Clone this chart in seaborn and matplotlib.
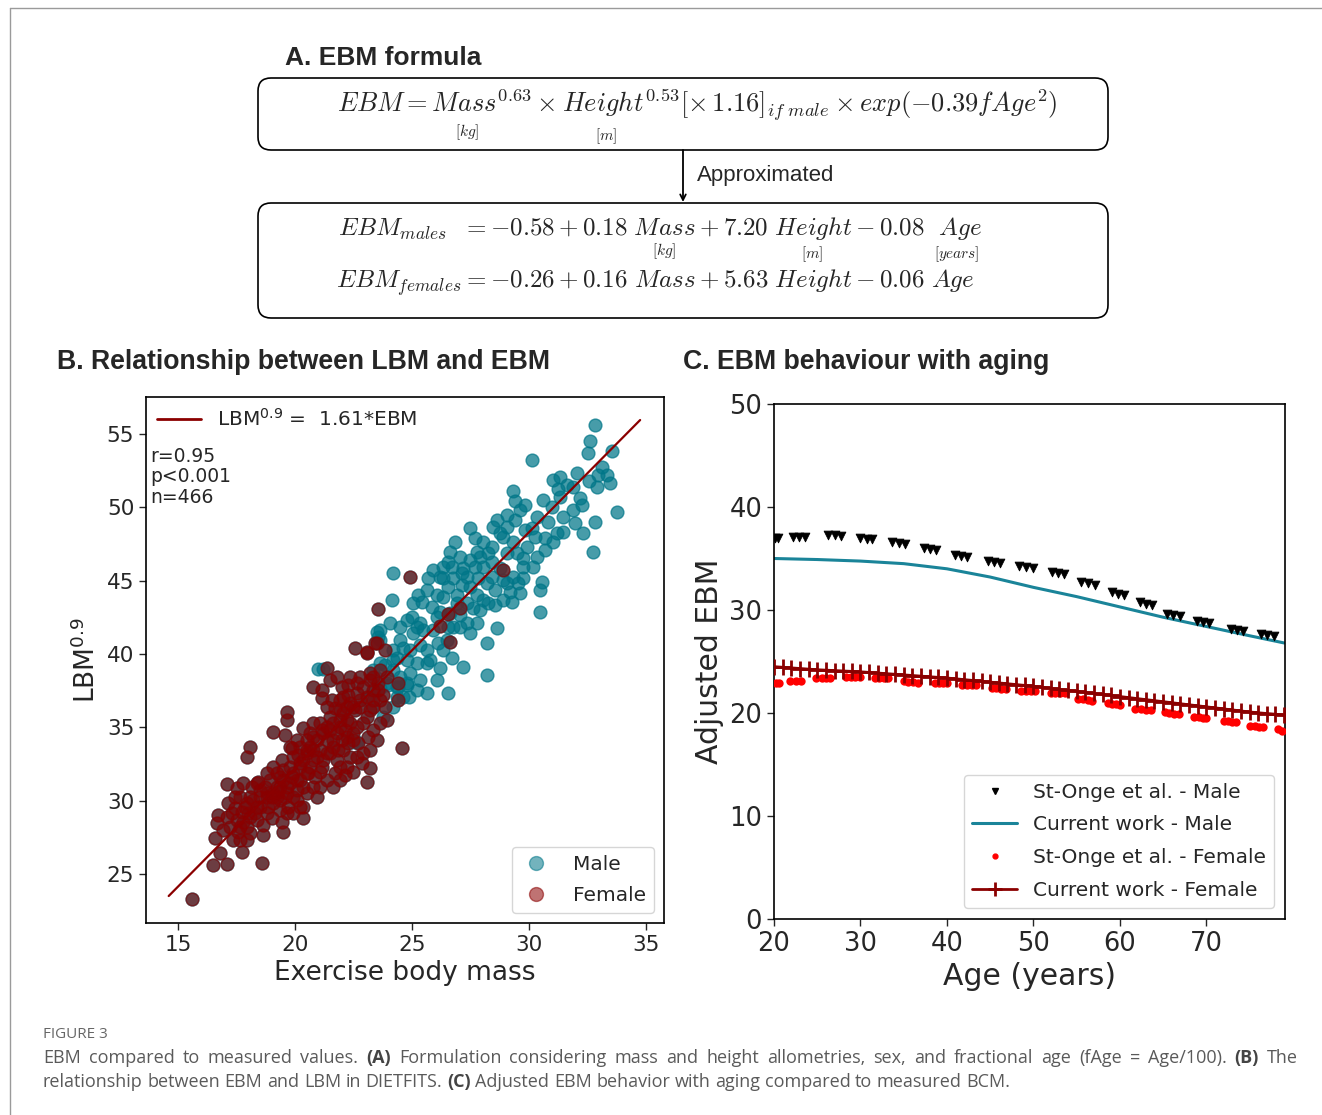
import matplotlib
matplotlib.use("Agg")
import matplotlib.pyplot as plt
import seaborn as sns
import pandas as pd
from matplotlib.patches import FancyBboxPatch
from matplotlib.lines import Line2D

# ---------------- Panel B data ----------------
male_ebm = [32.82, 32.61, 32.54, 33.53, 30.12, 33.11, 32.97, 33.32, 33.46, 32.58, 32.89, 31.04, 31.33, 31.26, 31.61,
            29.33, 29.40, 29.83, 30.61, 30.97, 32.18, 32.25, 33.75, 32.82, 31.97, 32.30, 31.47, 31.18, 30.83, 30.12,
            29.83, 30.26, 28.62, 29.05, 29.40, 28.48, 28.76, 27.48, 27.69, 28.05, 28.41, 28.26, 27.77, 27.48, 26.84,
            26.63, 26.55, 27.05, 27.20, 27.69, 28.05, 28.41, 28.76, 29.05, 29.48, 29.76, 29.90, 30.69, 30.69, 31.04,
            32.75, 29.76, 29.76, 28.91, 29.05, 29.55, 30.54, 30.47, 30.47, 29.62, 29.26, 28.91, 28.55, 28.26, 28.05,
            27.91, 27.62, 27.77, 27.48, 27.12, 27.12, 26.77, 26.34, 26.20, 25.70, 26.06, 26.34, 26.55, 26.91, 26.91,
            25.27, 25.42, 25.06, 24.20, 24.13, 26.63, 27.05, 27.34, 26.77, 26.55, 26.20, 26.06, 24.77, 24.99, 25.20,
            25.49, 25.06, 24.49, 24.63, 24.92, 25.63, 25.34, 26.13, 27.05, 27.48, 28.62, 28.19, 25.77, 26.20, 26.70,
            27.20, 25.63, 24.77, 24.35, 24.92, 23.63, 23.63, 24.20, 24.49, 24.77, 24.42, 25.63, 26.55, 28.19, 24.85,
            24.35, 21.00, 21.18, 22.63, 23.78, 23.35, 23.21, 23.63, 23.99, 24.34, 24.77, 24.63, 24.20, 23.35, 23.06,
            23.49, 23.49, 23.56, 22.49, 23.35, 23.85, 24.20,
            27.34, 27.84, 28.19, 28.55, 29.19, 29.33, 30.19, 30.33, 29.33, 28.91, 29.05, 29.62, 30.33, 31.47, 31.90,
            31.33, 31.90, 32.04, 26.34, 25.91, 25.63, 25.84, 27.34, 27.77, 26.48, 25.91, 25.34, 24.49, 24.06, 24.20,
            25.20, 26.34, 25.34, 26.06, 25.20, 23.92, 23.63, 28.41, 27.91, 26.70]
male_lbm = [55.61, 54.54, 53.72, 53.86, 53.22, 52.77, 52.20, 52.20, 51.68, 51.81, 51.40, 51.86, 52.08, 51.22, 51.52,
            51.13, 50.45, 50.15, 50.49, 50.04, 50.61, 50.15, 49.70, 49.02, 48.90, 48.22, 48.33, 48.22, 49.02, 48.56,
            48.45, 47.99, 49.13, 49.47, 49.13, 48.68, 48.22, 48.56, 47.88, 47.65, 47.31, 46.86, 46.97, 46.40, 47.65,
            46.97, 46.29, 46.63, 45.83, 45.95, 45.95, 46.29, 45.83, 46.86, 46.86, 46.52, 47.31, 47.08, 47.88, 47.65,
            46.97, 45.95, 45.15, 45.04, 44.81, 44.81, 44.93, 44.36, 42.88, 44.13, 43.56, 43.68, 43.33, 43.45, 43.68,
            42.99, 43.11, 44.02, 44.58, 44.70, 45.49, 45.15, 45.15, 45.27, 45.15, 44.02, 43.90, 44.58, 44.02, 43.45,
            44.02, 43.56, 43.45, 45.49, 43.68, 42.77, 42.65, 42.08, 41.86, 41.86, 42.88, 42.54, 42.31, 42.54, 41.86,
            41.63, 41.40, 40.95, 40.38, 40.27, 40.27, 40.61, 40.72, 41.86, 41.40, 41.74, 40.72, 39.58, 39.02, 39.70,
            39.13, 39.36, 39.58, 39.70, 38.68, 41.63, 40.95, 38.90, 38.45, 37.99, 37.77, 37.31, 37.31, 38.56, 37.08,
            37.08, 39.01, 39.01, 34.01, 35.72, 36.40, 37.08, 37.65, 37.88, 37.77, 37.88, 37.08, 36.40, 37.42, 36.85,
            38.33, 41.51, 41.17, 34.01, 38.90, 39.24, 39.58,
            45.27, 45.15, 44.81, 44.36, 44.24, 45.27, 45.95, 46.63, 47.65, 47.99, 48.68, 49.81, 49.36, 49.36, 49.81,
            50.72, 51.40, 52.31, 45.95, 45.72, 44.36, 43.22, 43.45, 42.08, 40.95, 41.63, 42.08, 41.86, 42.08, 40.27,
            39.36, 40.27, 38.22, 38.22, 37.54, 37.99, 39.36, 45.27, 46.63, 45.95]

female_ebm = [15.58, 16.51, 17.11, 16.79, 16.58, 16.65, 17.72, 17.65, 18.58, 17.58, 17.79, 18.01, 17.44, 17.08, 17.15,
              17.08, 17.44, 17.86, 18.15, 18.50, 18.65, 18.65, 19.00, 19.43, 19.50, 19.64, 20.36, 20.36, 20.07, 19.07,
              18.79, 19.22, 19.64, 19.36, 18.79, 18.43, 19.07, 19.43, 19.79, 19.86, 20.21, 20.07, 20.78, 20.93, 20.57,
              21.35, 21.14, 20.78, 20.14, 19.79, 20.07, 20.50, 21.07, 20.78, 21.14, 21.64, 21.50, 21.78, 22.06, 22.35,
              22.14, 22.49, 23.06, 22.85, 23.21, 22.92, 22.71, 23.13, 22.49, 21.92, 21.50, 21.71, 22.21, 22.56, 22.78,
              22.28, 21.92, 21.57, 21.14, 20.78, 21.14, 21.50, 21.78, 22.28, 22.78, 23.21, 23.56, 23.92, 23.78, 23.35,
              23.85, 24.42, 24.42, 24.56, 21.35, 22.56, 23.06, 23.49, 19.64, 19.64, 19.07, 19.57, 20.36, 19.86, 18.08,
              17.93, 18.36, 19.36, 18.22, 17.79, 17.51, 16.72,
              17.65, 17.93, 18.08, 18.36, 18.79, 19.07, 19.36, 19.79, 19.93, 20.21, 20.36, 20.50, 20.64, 20.93, 21.21,
              21.35, 21.64, 21.92, 22.06, 22.21, 22.35, 22.63, 22.92, 23.21, 23.35, 23.63, 19.22, 19.50, 19.64, 20.21,
              20.78, 20.93, 21.35, 21.50, 21.78, 21.92, 22.49, 22.78,
              24.92, 23.56, 26.55, 26.20, 26.63, 27.05, 28.91, 23.06, 23.42, 23.85,
              17.51, 17.29, 17.72, 18.29, 18.50, 18.86, 19.00, 19.29, 19.57, 19.71, 19.93, 20.07, 20.36, 20.50, 20.64,
              20.85, 21.07, 21.21, 21.35, 21.64, 21.85, 21.99, 22.21, 22.28, 22.49, 22.63, 22.35, 22.14, 22.92, 23.06,
              23.21, 23.35, 23.63, 23.56, 23.35, 23.06, 22.07, 22.63, 22.35, 21.99, 21.35, 21.07, 20.78, 20.64, 20.50,
              20.21, 19.93, 19.50, 19.22, 18.93, 18.72, 18.50, 18.08, 17.93, 17.65, 17.22, 16.94, 17.36, 17.93, 18.08,
              18.36, 18.79, 19.36, 19.93, 20.21, 20.50, 21.07, 21.64, 21.92, 22.21, 22.63, 23.21, 23.49, 23.63, 23.92,
              23.35, 21.92, 21.71]
female_lbm = [23.27, 25.61, 25.68, 26.40, 27.43, 28.50, 26.52, 27.31, 25.77, 27.88, 28.56, 29.13, 29.47, 28.90, 29.81,
              31.13, 30.27, 29.59, 30.95, 30.27, 28.34, 27.65, 28.79, 28.56, 27.88, 29.13, 28.79, 29.59, 30.04, 29.81,
              30.50, 30.95, 30.95, 31.63, 31.86, 31.29, 32.31, 32.77, 32.31, 31.63, 31.40, 30.72, 30.95, 30.27, 31.86,
              31.40, 32.31, 32.77, 33.11, 33.68, 34.13, 33.45, 33.45, 34.36, 34.81, 34.13, 33.22, 32.77, 33.45, 33.00,
              31.75, 31.97, 31.29, 32.54, 32.20, 33.22, 33.90, 34.36, 34.59, 35.04, 35.72, 36.29, 35.50, 36.18, 36.86,
              37.20, 36.86, 36.86, 36.97, 37.77, 37.54, 38.22, 38.45, 37.88, 38.45, 38.68, 38.00, 38.45, 37.20, 36.86,
              36.40, 36.86, 38.00, 33.56, 39.02, 40.38, 40.04, 40.72, 36.06, 35.50, 34.70, 34.47, 34.93, 33.56, 33.68,
              33.00, 31.18, 30.04, 30.04, 31.18, 30.84, 29.02,
              28.22, 28.22, 28.90, 29.59, 30.27, 30.50, 30.95, 31.18, 31.86, 32.31, 32.77, 33.22, 33.68, 34.13, 34.59,
              35.04, 35.27, 35.50, 35.95, 36.40, 36.63, 37.31, 37.77, 38.22, 38.45, 38.90, 30.27, 31.40, 30.50, 32.54,
              33.45, 33.00, 34.13, 34.81, 34.59, 36.18, 36.40, 36.40,
              45.27, 43.04, 42.72, 41.90, 40.84, 43.11, 45.72, 40.15, 40.72, 40.27,
              28.68, 29.13, 29.25, 29.13, 29.59, 29.59, 30.27, 30.61, 30.27, 29.59, 30.27, 31.40, 30.95, 31.86, 32.31,
              31.63, 31.97, 32.77, 33.22, 33.68, 33.45, 34.13, 34.36, 33.90, 34.13, 35.04, 35.27, 34.81, 35.27, 35.72,
              36.18, 36.40, 36.86, 37.54, 37.54, 37.09, 37.09, 38.00, 38.45, 37.77, 36.40, 35.27, 35.27, 34.59, 34.13,
              33.68, 32.95, 32.09, 31.86, 31.40, 30.95, 30.72, 30.27, 29.81, 30.27, 28.22, 28.00, 27.31, 27.31, 27.77,
              28.68, 29.13, 29.36, 29.13, 29.59, 30.50, 30.95, 30.95, 31.40, 32.31, 32.95, 33.45, 34.13, 35.27, 35.50,
              34.81, 32.31, 31.86]

fit_ebm = [14.6, 34.75]
fit_lbm = [23.5, 55.95]

# ---------------- Panel C data ----------------
stonge_male_age = [20.1, 20.5, 22.2, 22.9, 23.6, 26.2, 27.0, 27.8, 30.0, 30.7, 31.3, 33.6, 34.4, 35.2, 37.4, 38.1, 38.7,
                   40.9, 41.6, 42.3, 44.7, 45.4, 46.1, 48.3, 49.1, 49.9, 52.1, 52.8, 53.5, 55.5, 56.3, 57.1, 59.1, 59.8,
                   60.5, 62.3, 63.0, 63.7, 65.5, 66.2, 66.9, 68.9, 69.6, 70.3, 72.9, 73.6, 74.2, 76.3, 77.0, 77.8]
stonge_male_ebm = [37.0, 37.0, 37.1, 37.1, 37.05, 37.3, 37.25, 37.2, 36.95, 36.9, 36.85, 36.6, 36.5, 36.4, 36.0, 35.9,
                   35.8, 35.3, 35.2, 35.1, 34.8, 34.7, 34.6, 34.3, 34.2, 34.1, 33.7, 33.6, 33.5, 32.75, 32.6, 32.45,
                   31.75, 31.6, 31.45, 30.75, 30.6, 30.45, 29.6, 29.5, 29.4, 28.9, 28.8, 28.7, 28.2, 28.1, 28.0, 27.7,
                   27.6, 27.5]
stonge_female_age = [20.2, 20.6, 21.9, 22.5, 23.1, 24.9, 25.5, 26.0, 26.5, 28.3, 28.9, 29.4, 29.9, 31.7, 32.2, 32.7,
                     33.2, 35.0, 35.5, 36.1, 36.6, 38.6, 39.1, 39.6, 40.0, 41.8, 42.3, 42.9, 43.4, 45.2, 45.7, 46.3,
                     46.8, 48.6, 49.1, 49.7, 50.2, 52.0, 52.5, 53.1, 53.6, 55.2, 55.7, 56.3, 56.8, 58.6, 59.1, 59.6,
                     60.0, 61.8, 62.4, 63.0, 63.6, 65.2, 65.7, 66.3, 66.8, 68.6, 69.1, 69.6, 70.0, 72.0, 72.5, 73.0,
                     73.4, 75.1, 75.6, 76.1, 76.5, 78.3, 78.8]
stonge_female_ebm = [22.9, 22.9, 23.1, 23.1, 23.1, 23.4, 23.4, 23.4, 23.4, 23.5, 23.5, 23.5, 23.5, 23.4, 23.4, 23.4,
                     23.4, 23.1, 23.05, 23.0, 22.95, 22.9, 22.9, 22.9, 22.9, 22.7, 22.7, 22.7, 22.7, 22.45, 22.4, 22.35,
                     22.3, 22.1, 22.1, 22.1, 22.1, 21.9, 21.9, 21.9, 21.9, 21.4, 21.35, 21.3, 21.2, 20.95, 20.9, 20.85,
                     20.8, 20.4, 20.35, 20.3, 20.25, 20.05, 20.0, 19.95, 19.9, 19.65, 19.6, 19.55, 19.5, 19.25, 19.2,
                     19.15, 19.1, 18.75, 18.7, 18.65, 18.6, 18.4, 18.3]
curr_male_age = [20, 25, 30, 35, 40, 45, 50, 55, 60, 65, 70, 75, 79]
curr_male_ebm = [35.0, 34.9, 34.75, 34.5, 34.0, 33.2, 32.2, 31.3, 30.3, 29.3, 28.4, 27.5, 26.8]
curr_female_age = list(range(20, 80))
curr_female_ebm = [24.5, 24.44, 24.38, 24.32, 24.26, 24.2, 24.16, 24.12, 24.08, 24.04, 24.0, 23.94, 23.88, 23.82, 23.76,
                   23.7, 23.64, 23.58, 23.52, 23.46, 23.4, 23.32, 23.24, 23.16, 23.08, 23.0, 22.92, 22.84, 22.76, 22.68,
                   22.6, 22.5, 22.4, 22.3, 22.2, 22.1, 22.0, 21.9, 21.8, 21.7, 21.6, 21.5, 21.4, 21.3, 21.2, 21.1,
                   21.0, 20.9, 20.8, 20.7, 20.6, 20.5, 20.4, 20.3, 20.2, 20.1, 20.02, 19.95, 19.88, 19.8]

# ---------------- style ----------------
sns.set_style("ticks")
plt.rcParams['font.family'] = ['DejaVu Sans']
plt.rcParams['axes.edgecolor'] = 'black'
plt.rcParams['axes.linewidth'] = 1.2

TEAL = '#007688'
TEAL_LINE = '#1A8499'
DARKRED = '#8B0000'

fig = plt.figure(figsize=(13.22, 11.15), dpi=100)
ax0 = fig.add_axes([0, 0, 1, 1])
ax0.set_xlim(0, 1322)
ax0.set_ylim(1115, 0)
ax0.axis('off')

# page frame
ax0.plot([10, 1322], [8, 8], color='#9a9a9a', lw=1)
ax0.plot([10, 10], [8, 1115], color='#9a9a9a', lw=1)

# ---------------- Panel A ----------------
ax0.text(285, 58, 'A. EBM formula', fontsize=19, fontweight='bold', family='Liberation Sans', va='center', ha='left')
for (y0, y1) in [(78, 150), (203, 318)]:
    ax0.add_patch(FancyBboxPatch((258, y0), 850, y1 - y0, boxstyle='round,pad=0,rounding_size=13',
                                 fc='white', ec='black', lw=1.2))
ax0.text(697, 105, r'$EBM = Mass^{0.63} \times Height^{0.53}[\times\,1.16]_{if\ male} \times exp(-0.39fAge^2)$',
         math_fontfamily='cm', fontsize=19, ha='center', va='center')
ax0.text(467, 132, r'$[kg]$', math_fontfamily='cm', fontsize=11, ha='center', va='center')
ax0.text(606, 136, r'$[m]$', math_fontfamily='cm', fontsize=11, ha='center', va='center')
ax0.annotate('', xy=(683, 202), xytext=(683, 150),
             arrowprops=dict(arrowstyle='->', color='black', lw=1.3, shrinkA=0, shrinkB=0))
ax0.text(697, 176, 'Approximated', fontsize=16, family='Liberation Sans', va='center', ha='left')
ax0.text(660, 229, r'$EBM_{males}\ \ = -0.58 + 0.18\ Mass + 7.20\ Height - 0.08\ \ Age$',
         math_fontfamily='cm', fontsize=18, ha='center', va='center')
ax0.text(664, 251, r'$[kg]$', math_fontfamily='cm', fontsize=11, ha='center', va='center')
ax0.text(812, 254, r'$[m]$', math_fontfamily='cm', fontsize=11, ha='center', va='center')
ax0.text(957, 254, r'$[years]$', math_fontfamily='cm', fontsize=11, ha='center', va='center')
ax0.text(655, 283, r'$EBM_{females} = -0.26 + 0.16\ Mass + 5.63\ Height - 0.06\ Age$',
         math_fontfamily='cm', fontsize=18, ha='center', va='center')

# ---------------- Panel B ----------------
ax0.text(57, 362, 'B. Relationship between LBM and EBM', fontsize=19.2, fontweight='bold',
         family='Liberation Sans', va='center', ha='left')
axB = fig.add_axes([146 / 1322, 1 - 923 / 1115, 518 / 1322, 526 / 1115])
df = pd.DataFrame({'EBM': male_ebm + female_ebm,
                   'LBM': male_lbm + female_lbm,
                   'Sex': ['Male'] * len(male_ebm) + ['Female'] * len(female_ebm)})
sns.scatterplot(data=df[df['Sex'] == 'Female'], x='EBM', y='LBM', color=TEAL, alpha=0.75, s=85,
                edgecolor='face', linewidth=1, legend=False, ax=axB)
sns.scatterplot(data=df[df['Sex'] == 'Male'], x='EBM', y='LBM', color=TEAL,
                alpha=0.72, s=85, edgecolor='face', linewidth=1, legend=False, ax=axB)
sns.scatterplot(data=df[df['Sex'] == 'Female'], x='EBM', y='LBM', color=DARKRED,
                alpha=0.6, s=85, edgecolor='face', linewidth=1, legend=False, ax=axB)
axB.plot(fit_ebm, fit_lbm, color=DARKRED, lw=1.6)
axB.set_xlim(13.63, 35.77)
axB.set_ylim(21.66, 57.52)
axB.set_xticks([15, 20, 25, 30, 35])
axB.set_yticks([25, 30, 35, 40, 45, 50, 55])
axB.tick_params(labelsize=15.5, length=5, width=1)
axB.set_xlabel('Exercise body mass', fontsize=19)
axB.set_ylabel(r'LBM$^{0.9}$', fontsize=19)
for sp in axB.spines.values():
    sp.set_visible(True)
leg1 = axB.legend(handles=[Line2D([], [], color=DARKRED, lw=2)], labels=[r'LBM$^{0.9}$ =  1.61*EBM'],
                  loc='upper left', frameon=False, fontsize=14.5, borderaxespad=0.15, handlelength=2.2)
axB.add_artist(leg1)
hm = Line2D([], [], marker='o', ls='', markerfacecolor=TEAL, markeredgecolor=TEAL, alpha=0.55, markersize=10)
hf = Line2D([], [], marker='o', ls='', markerfacecolor=DARKRED, markeredgecolor=DARKRED, alpha=0.55, markersize=10)
axB.legend(handles=[hm, hf], labels=['Male', 'Female'], loc='lower right', fontsize=14.5,
           handlelength=1.6, handletextpad=1.0, borderaxespad=0.5, labelspacing=0.6)
axB.text(0.008, 0.905, 'r=0.95\np<0.001\nn=466', transform=axB.transAxes, fontsize=13.5,
         va='top', ha='left', linespacing=1.1)

# ---------------- Panel C ----------------
ax0.text(683, 362, 'C. EBM behaviour with aging', fontsize=19.2, fontweight='bold',
         family='Liberation Sans', va='center', ha='left')
axC = fig.add_axes([774 / 1322, 1 - 919 / 1115, 511 / 1322, 515 / 1115])
sns.scatterplot(x=stonge_male_age, y=stonge_male_ebm, marker='v', color='black', s=40,
                edgecolor='black', linewidth=0.6, ax=axC, legend=False, zorder=3)
sns.lineplot(x=curr_male_age, y=curr_male_ebm, color=TEAL_LINE, lw=2.2, ax=axC, legend=False)
sns.scatterplot(x=stonge_female_age, y=stonge_female_ebm, marker='o', color='red', s=36,
                edgecolor='red', linewidth=0, ax=axC, legend=False, zorder=3)
sns.lineplot(x=curr_female_age, y=curr_female_ebm, color=DARKRED, lw=2, marker='+', markersize=11,
             markeredgewidth=2, markeredgecolor=DARKRED, ax=axC, legend=False, zorder=4)
axC.set_xlim(20, 79.1)
axC.set_ylim(0, 50)
axC.set_xticks([20, 30, 40, 50, 60, 70])
axC.set_yticks([0, 10, 20, 30, 40, 50])
axC.tick_params(labelsize=18.5, length=5, width=1)
axC.set_xlabel('Age (years)', fontsize=21.5)
axC.set_ylabel('Adjusted EBM', fontsize=21.5)
for sp in axC.spines.values():
    sp.set_visible(True)
hC = [Line2D([], [], marker='v', ls='', color='black', markersize=5),
      Line2D([], [], color=TEAL_LINE, lw=2.2),
      Line2D([], [], marker='.', ls='', color='red', markersize=7),
      Line2D([], [], color=DARKRED, lw=2, marker='+', markersize=10, markeredgewidth=2)]
axC.legend(handles=hC, labels=['St-Onge et al. - Male', 'Current work - Male',
                               'St-Onge et al. - Female', 'Current work - Female'],
           loc='lower right', fontsize=14.5, borderaxespad=0.55, labelspacing=0.68, handlelength=2.2)

# ---------------- caption ----------------
CAP = '#5a5a5a'
CAP_FS = 13
ax0.text(43, 1035, 'FIGURE 3', fontsize=11, color='#666666', family='Open Sans', va='center', ha='left')
renderer = fig.canvas.get_renderer()


def width_of(s, weight):
    t = ax0.text(0, 0, s, fontsize=CAP_FS, family='Open Sans', fontweight=weight)
    w = t.get_window_extent(renderer=renderer).width
    t.remove()
    return w


space_w = width_of('a a', 'normal') - width_of('aa', 'normal')


def caption_line(x0, x1, y, pieces, justify):
    tokens = []
    for s, w in pieces:
        for word in s.split():
            tokens.append((word, w))
    widths = [width_of(wd, w) for wd, w in tokens]
    if justify:
        gap = (x1 - x0 - sum(widths)) / (len(tokens) - 1)
    else:
        gap = space_w
    x = x0
    for (wd, w), wid in zip(tokens, widths):
        ax0.text(x, y, wd, fontsize=CAP_FS, family='Open Sans', fontweight=w,
                 color=CAP if w == 'normal' else '#444444', va='center', ha='left')
        x += wid + gap


caption_line(43, 1298, 1058, [('EBM compared to measured values.', 'normal'), ('(A)', 'bold'),
                              ('Formulation considering mass and height allometries, sex, and fractional age '
                               '(fAge = Age/100).', 'normal'),
                              ('(B)', 'bold'), ('The', 'normal')], True)
caption_line(43, 1298, 1082, [('relationship between EBM and LBM in DIETFITS.', 'normal'), ('(C)', 'bold'),
                              ('Adjusted EBM behavior with aging compared to measured BCM.', 'normal')], False)

fig.savefig('out.png', dpi=100)
